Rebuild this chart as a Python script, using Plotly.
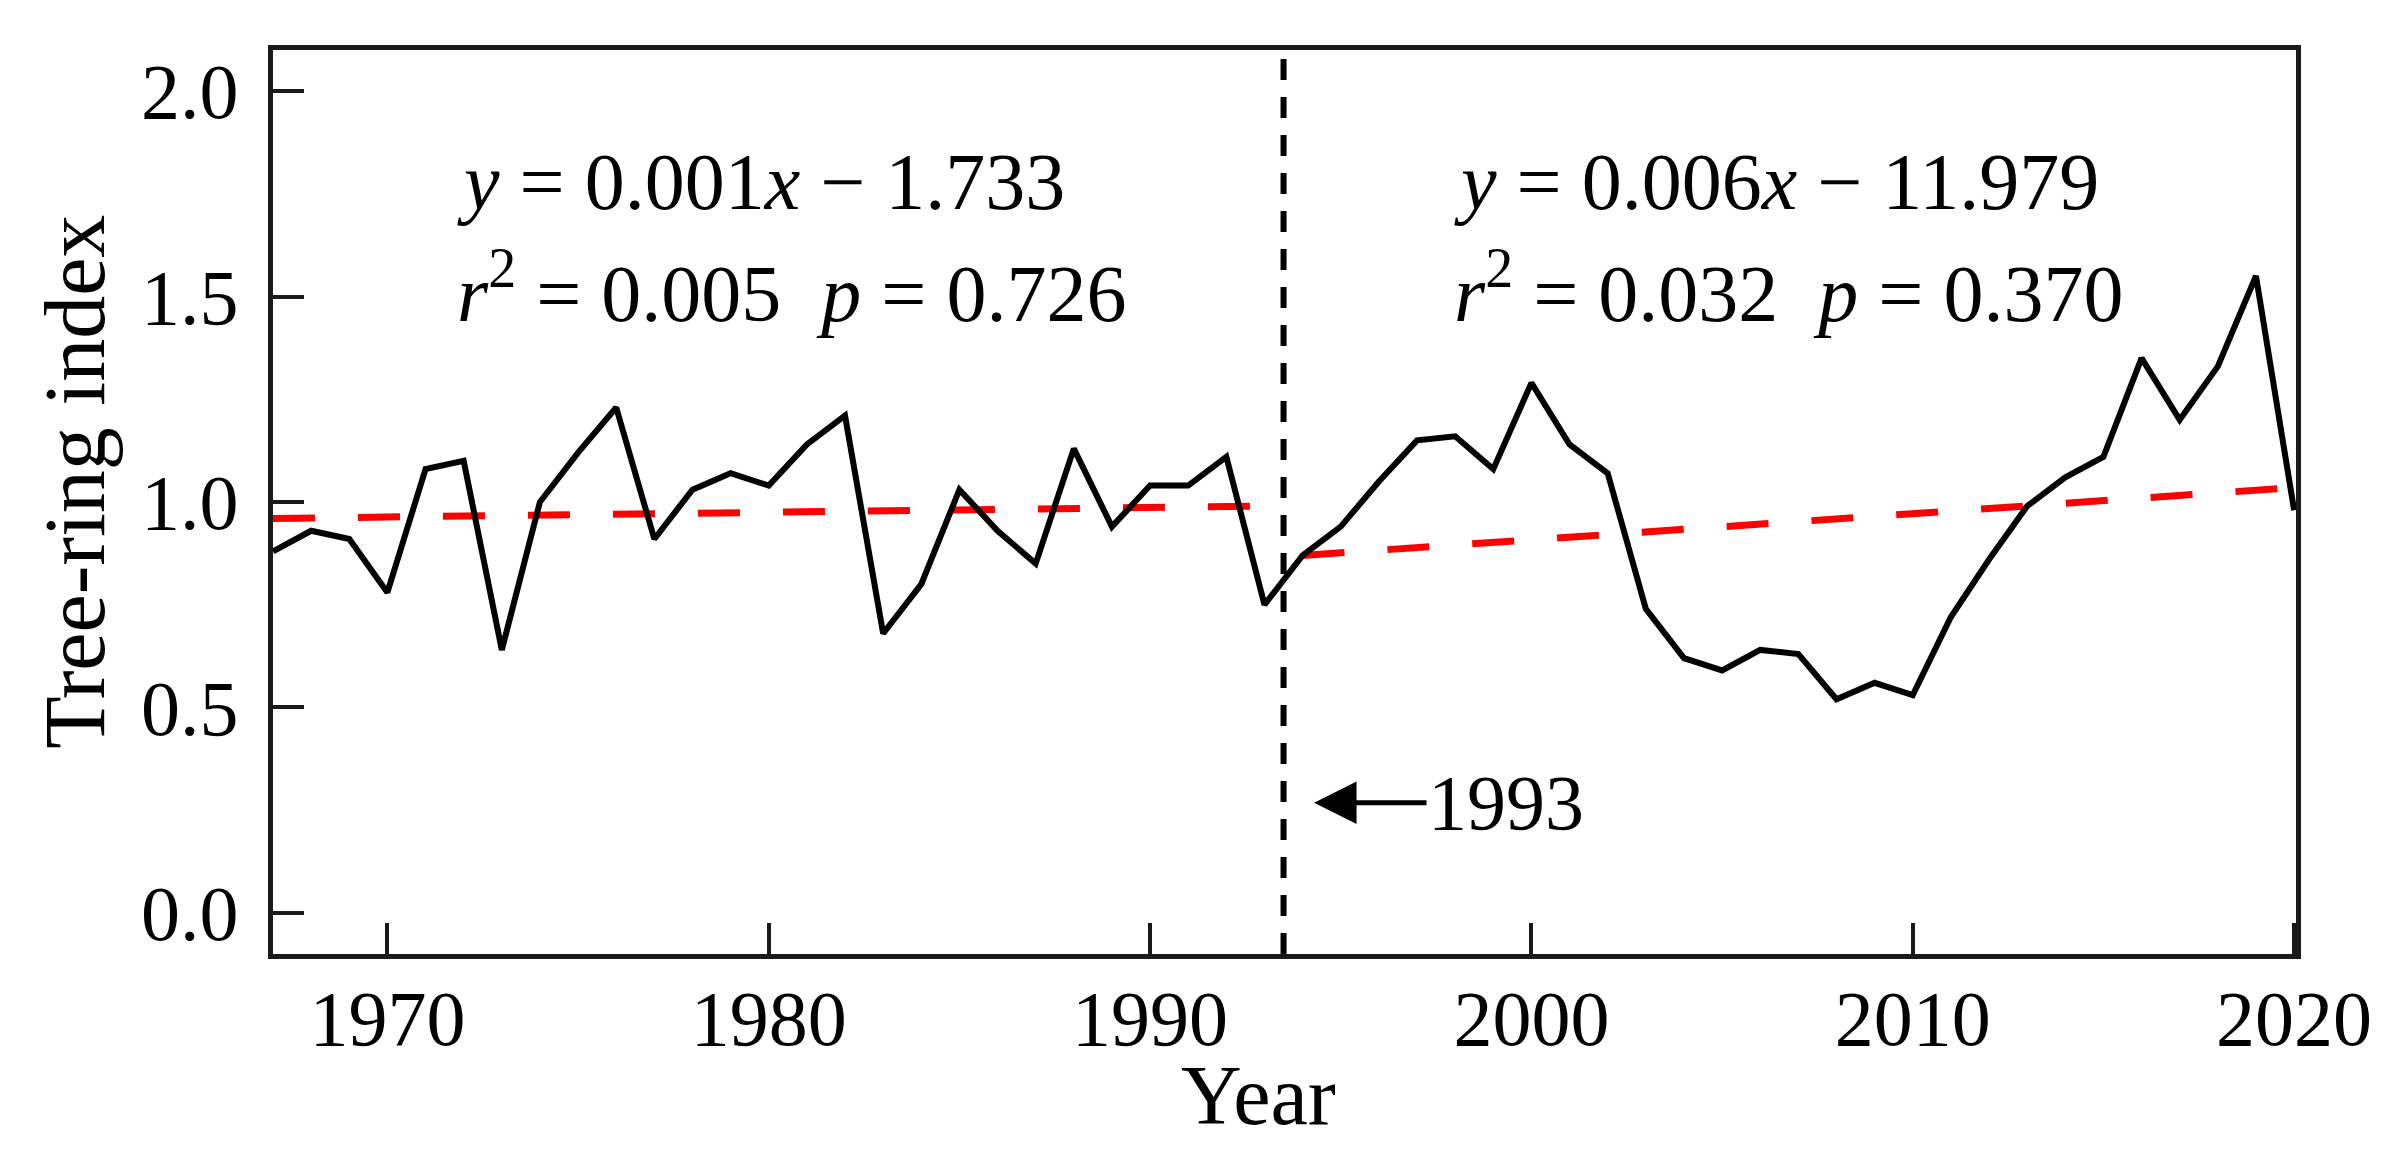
import plotly.graph_objects as go

# ---------------- data ----------------
years = list(range(1967, 2021))
tree_ring_index = [
    0.88, 0.93, 0.91, 0.78, 1.08, 1.10, 0.64, 1.00, 1.12, 1.23,
    0.91, 1.03, 1.07, 1.04, 1.14, 1.21, 0.68, 0.80, 1.03, 0.93,
    0.85, 1.13, 0.94, 1.04, 1.04, 1.11, 0.75, 0.87, 0.94, 1.05,
    1.15, 1.16, 1.08, 1.29, 1.14, 1.07, 0.74, 0.62, 0.59, 0.64,
    0.63, 0.52, 0.56, 0.53, 0.72, 0.86, 0.99, 1.06, 1.11, 1.35,
    1.20, 1.33, 1.55, 0.98,
]
trend_left_years = [1967, 1993]
trend_left_vals = [0.96, 0.99]
trend_right_years = [1994, 2020]
trend_right_vals = [0.87, 1.035]
break_year = 1993.5
break_label = "1993"
arrow_point = (1994.3, 0.268)

eq_left = ["<i>y</i> = 0.001<i>x</i> \u2212 1.733",
           "<i>r</i><sup>2</sup> = 0.005\u00a0\u00a0<i>p</i> = 0.726"]
eq_right = ["<i>y</i> = 0.006<i>x</i> \u2212 11.979",
            "<i>r</i><sup>2</sup> = 0.032\u00a0\u00a0<i>p</i> = 0.370"]

x_ticks = [1970, 1980, 1990, 2000, 2010, 2020]
y_ticks = [0.0, 0.5, 1.0, 1.5, 2.0]
x_title = "Year"
y_title = "Tree-ring index"

FONT = "Liberation Serif, Times New Roman, serif"
AX = "#1a1a1a"

fig = go.Figure()
for xs, ys in ((trend_left_years, trend_left_vals), (trend_right_years, trend_right_vals)):
    fig.add_trace(go.Scatter(x=xs, y=ys, mode="lines",
                             line=dict(color="#ff0000", width=7, dash="42px,43px"),
                             showlegend=False, hoverinfo="skip"))
fig.add_trace(go.Scatter(x=years, y=tree_ring_index, mode="lines",
                         line=dict(color="black", width=6),
                         showlegend=False))

fig.add_shape(type="line", xref="x", yref="paper", x0=break_year, x1=break_year,
              y0=0, y1=1, line=dict(color="black", width=6, dash="21px,17px"))

ann = []
rows_y = [0.854, 0.737]
for i, t in enumerate(eq_left):
    ann.append(dict(text=t, xref="paper", yref="paper", x=0.090, y=rows_y[i],
                    xanchor="left", yanchor="middle", showarrow=False,
                    font=dict(family=FONT, size=80, color="black")))
for i, t in enumerate(eq_right):
    ann.append(dict(text=t, xref="paper", yref="paper", x=0.583, y=rows_y[i],
                    xanchor="left", yanchor="middle", showarrow=False,
                    font=dict(family=FONT, size=80, color="black")))
ann.append(dict(text=break_label, x=arrow_point[0], y=arrow_point[1], xref="x", yref="y",
                showarrow=True, ax=192, ay=0, arrowhead=2, arrowsize=1.7,
                arrowwidth=5, arrowcolor="black",
                font=dict(family=FONT, size=78, color="black")))
ann.append(dict(text=x_title, xref="paper", yref="paper", x=0.487, y=-0.157,
                xanchor="center", yanchor="middle", showarrow=False,
                font=dict(family=FONT, size=84, color="black")))
ann.append(dict(text=y_title, xref="paper", yref="paper", x=-0.098, y=0.522,
                xanchor="center", yanchor="middle", showarrow=False, textangle=-90,
                font=dict(family=FONT, size=86, color="black")))

fig.update_layout(
    width=2400, height=1153,
    margin=dict(l=273, r=104, t=50, b=199),
    paper_bgcolor="white", plot_bgcolor="white",
    font=dict(family=FONT, size=78, color="black"),
    annotations=ann,
    xaxis=dict(range=[1967, 2020.05], tickvals=x_ticks, showgrid=False, zeroline=False,
               showline=True, linewidth=5, linecolor=AX, mirror=True,
               ticks="inside", ticklen=31, tickwidth=4, tickcolor=AX,
               ticklabelstandoff=-8,
               tickfont=dict(family=FONT, size=78, color="black")),
    yaxis=dict(range=[-0.1, 2.1], tickvals=y_ticks, tickformat=".1f", showgrid=False,
               zeroline=False, showline=True, linewidth=5, linecolor=AX, mirror=True,
               ticks="inside", ticklen=31, tickwidth=4, tickcolor=AX,
               ticklabelstandoff=14,
               tickfont=dict(family=FONT, size=78, color="black")),
)

fig.write_html("out.html")
